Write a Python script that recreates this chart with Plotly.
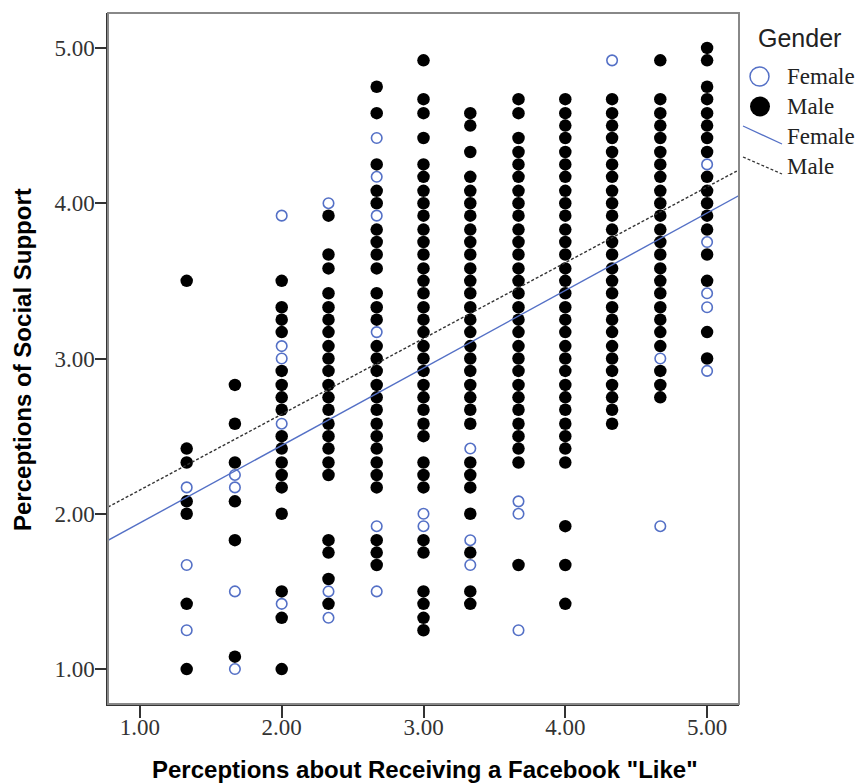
import plotly.graph_objects as go

# ---- data ----
x_levels = [1.33, 1.67, 2.00, 2.33, 2.67, 3.00, 3.33, 3.67, 4.00, 4.33, 4.67, 5.00]
x_ticks = [1, 2, 3, 4, 5]
x_tick_labels = ["1.00", "2.00", "3.00", "4.00", "5.00"]
y_ticks = [1, 2, 3, 4, 5]
y_tick_labels = ["1.00", "2.00", "3.00", "4.00", "5.00"]

male_133 = [3.50, 2.42, 2.33, 2.08, 2.00, 1.42, 1.00]
male_167 = [2.83, 2.58, 2.33, 2.08, 1.83, 1.08]
male_200 = [3.50, 3.33, 3.25, 3.17, 2.92, 2.83, 2.75, 2.67, 2.50, 2.42, 2.33, 2.25, 2.17,
            2.00, 1.50, 1.33, 1.00]
male_233 = [3.92, 3.67, 3.58, 3.42, 3.33, 3.25, 3.17, 3.08, 3.00, 2.92, 2.83, 2.75, 2.67,
            2.58, 2.50, 2.42, 2.33, 2.25, 1.83, 1.75, 1.58, 1.42]
male_267 = [4.75, 4.58, 4.25, 4.08, 4.00, 3.83, 3.75, 3.67, 3.58, 3.42, 3.33, 3.25, 3.08,
            3.00, 2.92, 2.83, 2.75, 2.67, 2.58, 2.50, 2.42, 2.33, 2.25, 2.17, 1.83, 1.75, 1.67]
male_300 = [4.92, 4.67, 4.58, 4.42, 4.25, 4.17, 4.08, 4.00, 3.92, 3.83, 3.75, 3.67, 3.58,
            3.50, 3.42, 3.33, 3.25, 3.17, 3.08, 3.00, 2.92, 2.83, 2.75, 2.67, 2.58, 2.50,
            2.33, 2.25, 2.17, 1.83, 1.75, 1.50, 1.42, 1.33, 1.25]
male_333 = [4.58, 4.50, 4.33, 4.17, 4.08, 4.00, 3.92, 3.83, 3.75, 3.67, 3.58, 3.50, 3.42,
            3.33, 3.25, 3.17, 3.08, 3.00, 2.92, 2.83, 2.75, 2.67, 2.58, 2.33, 2.25, 2.17,
            2.00, 1.75, 1.50, 1.42]
male_367 = [4.67, 4.58, 4.42, 4.33, 4.25, 4.17, 4.08, 4.00, 3.92, 3.83, 3.75, 3.67, 3.58,
            3.50, 3.42, 3.33, 3.25, 3.17, 3.08, 3.00, 2.92, 2.83, 2.75, 2.67, 2.58, 2.50,
            2.42, 2.33, 1.67]
male_400 = [4.67, 4.58, 4.50, 4.42, 4.33, 4.25, 4.17, 4.08, 4.00, 3.92, 3.83, 3.75, 3.67,
            3.58, 3.50, 3.42, 3.33, 3.25, 3.17, 3.08, 3.00, 2.92, 2.83, 2.75, 2.67, 2.58,
            2.50, 2.42, 2.33, 1.92, 1.67, 1.42]
male_433 = [4.67, 4.58, 4.50, 4.42, 4.33, 4.25, 4.17, 4.08, 4.00, 3.92, 3.83, 3.75, 3.67,
            3.58, 3.50, 3.42, 3.33, 3.25, 3.17, 3.08, 3.00, 2.92, 2.83, 2.75, 2.67, 2.58]
male_467 = [4.92, 4.67, 4.58, 4.50, 4.42, 4.33, 4.25, 4.17, 4.08, 4.00, 3.92, 3.83, 3.75,
            3.67, 3.58, 3.50, 3.42, 3.33, 3.25, 3.17, 3.08, 2.92, 2.83, 2.75]
male_500 = [5.00, 4.92, 4.75, 4.67, 4.58, 4.50, 4.42, 4.33, 4.17, 4.08, 4.00, 3.92, 3.83,
            3.67, 3.50, 3.17, 3.00]

female_133 = [2.17, 1.67, 1.25]
female_167 = [2.25, 2.17, 1.50, 1.00]
female_200 = [3.92, 3.08, 3.00, 2.58, 1.42]
female_233 = [4.00, 1.50, 1.33]
female_267 = [4.42, 4.17, 3.92, 3.17, 1.92, 1.50]
female_300 = [2.00, 1.92]
female_333 = [2.42, 1.83, 1.67]
female_367 = [2.08, 2.00, 1.25]
female_400 = []
female_433 = [4.92]
female_467 = [3.00, 1.92]
female_500 = [4.25, 3.75, 3.42, 3.33, 2.92]

# linear fit lines (intercept, slope)
female_fit = (1.442, 0.499)
male_fit = (1.665, 0.488)

male_cols = [male_133, male_167, male_200, male_233, male_267, male_300,
             male_333, male_367, male_400, male_433, male_467, male_500]
female_cols = [female_133, female_167, female_200, female_233, female_267, female_300,
               female_333, female_367, female_400, female_433, female_467, female_500]

# ---- style ----
BLUE = "#5470c6"
X_RANGE = [0.775, 5.225]
Y_RANGE = [0.775, 5.225]
W, H = 859, 784
ML, MR, MT, MB = 108, 120, 13, 80
PW, PH = W - ML - MR, H - MT - MB


def px(xp):
    return (xp - ML) / PW


def py(yp):
    return (H - MB - yp) / PH


mx, my = [], []
for xv, col in zip(x_levels, male_cols):
    mx += [xv] * len(col)
    my += col
fx, fy = [], []
for xv, col in zip(x_levels, female_cols):
    fx += [xv] * len(col)
    fy += col

fig = go.Figure()
fig.add_trace(go.Scatter(x=mx, y=my, mode="markers", name="Male",
                         marker=dict(symbol="circle", size=12.5, color="black",
                                     line=dict(width=0)), showlegend=False))
fig.add_trace(go.Scatter(x=fx, y=fy, mode="markers", name="Female",
                         marker=dict(symbol="circle-open", size=10.5, color=BLUE,
                                     line=dict(width=1.6, color=BLUE)), showlegend=False))

for (a, b), style in [(female_fit, dict(color=BLUE, width=1.4)),
                      (male_fit, dict(color="#333333", width=1.4, dash="3px,2px"))]:
    fig.add_trace(go.Scatter(x=X_RANGE, y=[a + b * X_RANGE[0], a + b * X_RANGE[1]],
                             mode="lines", line=style, showlegend=False, hoverinfo="skip"))

tick_font = dict(family="Liberation Serif", size=23, color="#333333")
fig.update_xaxes(range=X_RANGE, tickvals=x_ticks, ticktext=x_tick_labels,
                 ticks="outside", ticklen=12, tickwidth=1.5, tickcolor="#333333",
                 showgrid=False, zeroline=False, showline=True, linecolor="#333333",
                 linewidth=1.5, tickfont=tick_font, ticklabelstandoff=-10)
fig.update_yaxes(range=Y_RANGE, tickvals=y_ticks, ticktext=y_tick_labels,
                 ticks="outside", ticklen=11, tickwidth=1.5, tickcolor="#333333",
                 showgrid=False, zeroline=False, showline=True, linecolor="#333333",
                 linewidth=1.5, tickfont=tick_font, ticklabelstandoff=-4)

shapes = [dict(type="rect", xref="paper", yref="paper", x0=0, x1=1, y0=0, y1=1,
               line=dict(color="#888888", width=2), layer="above")]
# legend symbols
shapes.append(dict(type="circle", xref="paper", yref="paper", xsizemode="pixel",
                   ysizemode="pixel", xanchor=px(759.5), yanchor=py(76.5),
                   x0=-9.5, x1=9.5, y0=-9.5, y1=9.5, line=dict(color=BLUE, width=1.5)))
shapes.append(dict(type="circle", xref="paper", yref="paper", xsizemode="pixel",
                   ysizemode="pixel", xanchor=px(760), yanchor=py(106.5),
                   x0=-10, x1=10, y0=-10, y1=10, fillcolor="black",
                   line=dict(color="black", width=0)))
shapes.append(dict(type="line", xref="paper", yref="paper", x0=px(743), y0=py(126),
                   x1=px(782), y1=py(144), line=dict(color=BLUE, width=1.3)))
shapes.append(dict(type="line", xref="paper", yref="paper", x0=px(743), y0=py(157),
                   x1=px(782), y1=py(174), line=dict(color="#333333", width=1.3, dash="3px,2px")))

leg_font = dict(family="Liberation Serif", size=23, color="#222222")
annotations = [
    dict(text="Gender", x=px(756), y=py(38), xref="paper", yref="paper", xanchor="left",
         yanchor="middle", showarrow=False,
         font=dict(family="Liberation Sans", size=25, color="#222222")),
]
for label, yc in [("Female", 77), ("Male", 107), ("Female", 137), ("Male", 167)]:
    annotations.append(dict(text=label, x=px(785), y=py(yc), xref="paper", yref="paper",
                            xanchor="left", yanchor="middle", showarrow=False, font=leg_font))

title_font = dict(family="Liberation Sans", size=24, color="black")
annotations.append(dict(text="<b>Perceptions about Receiving a Facebook \"Like\"</b>",
                        x=px(425), y=py(769), xref="paper", yref="paper", showarrow=False,
                        xanchor="center", yanchor="middle", font=title_font))
annotations.append(dict(text="<b>Perceptions of Social Support</b>", x=px(22), y=py(360),
                        xref="paper", yref="paper", showarrow=False, textangle=-90,
                        xanchor="center", yanchor="middle", font=title_font))

fig.update_layout(width=W, height=H, margin=dict(l=ML, r=MR, t=MT, b=MB),
                  plot_bgcolor="white", paper_bgcolor="white",
                  shapes=shapes, annotations=annotations, showlegend=False)

fig.write_html("out.html")
